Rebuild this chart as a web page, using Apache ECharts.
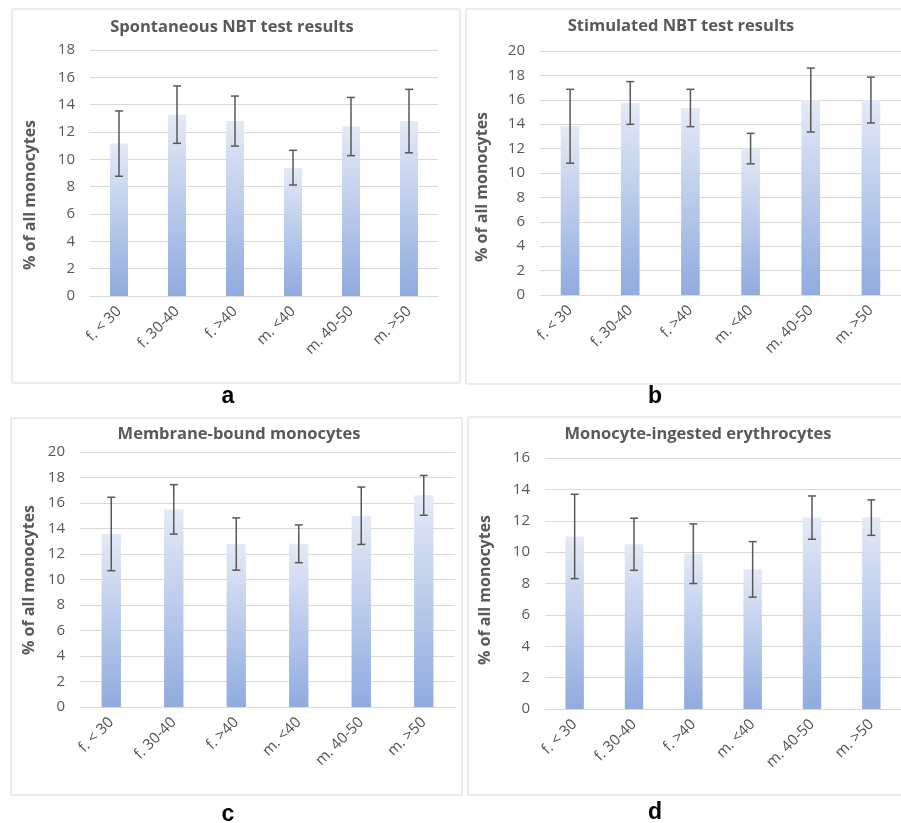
<!DOCTYPE html>
<html>
<head>
<meta charset="utf-8">
<script src="https://cdn.jsdelivr.net/npm/echarts@6/dist/echarts.min.js"></script>
<style>
html,body{margin:0;padding:0;background:#fff;}
#main{width:901px;height:823px;}
</style>
</head>
<body>
<div id="main"></div>
<script>
// ---- data ----
const categories = ['f. < 30', 'f. 30-40', 'f. >40', 'm. <40', 'm. 40-50', 'm. >50'];

const spontaneousMean = [11.15, 13.27, 12.8, 9.39, 12.4, 12.8];
const spontaneousErr  = [2.39, 2.1, 1.83, 1.27, 2.13, 2.32];

const stimulatedMean = [13.83, 15.74, 15.33, 12.0, 15.98, 15.98];
const stimulatedErr  = [3.03, 1.75, 1.53, 1.25, 2.62, 1.88];

const membraneMean = [13.57, 15.5, 12.78, 12.8, 15.0, 16.6];
const membraneErr  = [2.88, 1.94, 2.05, 1.48, 2.25, 1.56];

const ingestedMean = [11.0, 10.5, 9.9, 8.9, 12.2, 12.2];
const ingestedErr  = [2.69, 1.66, 1.9, 1.77, 1.38, 1.13];

const titles = ['Spontaneous NBT test results', 'Stimulated NBT test results',
                'Membrane-bound monocytes', 'Monocyte-ingested erythrocytes'];
const panelLetters = ['a', 'b', 'c', 'd'];
const yMax = [18, 20, 20, 16];
const yAxisName = '% of all monocytes';

// ---- layout ----
const grids = [
  {left: 90,  top: 50,  width: 348, height: 246},
  {left: 540, top: 51,  width: 364, height: 244},
  {left: 80,  top: 452, width: 375, height: 255},
  {left: 545, top: 458, width: 374, height: 251}
];
const titlePos = [[232, 27], [681, 26], [239, 434], [698, 434]];
const axisNamePos = [[30, 195], [482, 187], [29, 580], [485, 590]];
const letterPos = [[228, 397], [655, 397], [228, 815], [655, 813]];
const borders = [
  {x: 12, y: 9, width: 448, height: 374},
  {x: 466, y: 9, width: 470, height: 375},
  {x: 11, y: 418, width: 451, height: 377},
  {x: 468, y: 417, width: 470, height: 378}
];

const means = [spontaneousMean, stimulatedMean, membraneMean, ingestedMean];
const errs = [spontaneousErr, stimulatedErr, membraneErr, ingestedErr];

const FONT = 'Open Sans';
const GREY = '#595959';

const barColor = new echarts.graphic.LinearGradient(0, 0, 0, 1, [
  {offset: 0, color: '#e4eaf6'},
  {offset: 1, color: '#90abdf'}
]);

function errRender(params, api) {
  const x = api.value(0);
  const lo = api.coord([x, api.value(1)]);
  const hi = api.coord([x, api.value(2)]);
  const hw = 4;
  const st = {stroke: GREY, lineWidth: 1.5};
  return {
    type: 'group',
    children: [
      {type: 'line', shape: {x1: lo[0], y1: lo[1], x2: hi[0], y2: hi[1]}, style: st},
      {type: 'line', shape: {x1: lo[0] - hw, y1: lo[1], x2: lo[0] + hw, y2: lo[1]}, style: st},
      {type: 'line', shape: {x1: hi[0] - hw, y1: hi[1], x2: hi[0] + hw, y2: hi[1]}, style: st}
    ]
  };
}

const option = {
  backgroundColor: '#ffffff',
  animation: false,
  grid: grids.map(g => Object.assign({containLabel: false}, g)),
  xAxis: grids.map((g, i) => ({
    type: 'category',
    gridIndex: i,
    data: categories,
    axisTick: {show: false},
    axisLine: {lineStyle: {color: '#d9d9d9', width: 1}},
    axisLabel: {rotate: 45, color: '#505050', fontFamily: FONT, fontSize: 15, margin: 13, interval: 0}
  })),
  yAxis: grids.map((g, i) => ({
    type: 'value',
    gridIndex: i,
    min: 0,
    max: yMax[i],
    interval: 2,
    axisLine: {show: false},
    axisTick: {show: false},
    splitLine: {lineStyle: {color: '#d9d9d9', width: 1}},
    axisLabel: {color: GREY, fontFamily: FONT, fontSize: 15, margin: 15}
  })),
  series: [],
  graphic: []
};

for (let i = 0; i < 4; i++) {
  option.series.push({
    type: 'bar',
    xAxisIndex: i,
    yAxisIndex: i,
    data: means[i],
    barWidth: '31%',
    itemStyle: {color: barColor}
  });
  option.series.push({
    type: 'custom',
    xAxisIndex: i,
    yAxisIndex: i,
    renderItem: errRender,
    encode: {x: 0, y: [1, 2]},
    data: means[i].map((m, j) => [j, +(m - errs[i][j]).toFixed(2), +(m + errs[i][j]).toFixed(2)]),
    z: 5
  });
  option.graphic.push({
    type: 'rect',
    shape: borders[i],
    style: {fill: 'none', stroke: '#d9d9d9', lineWidth: 1},
    z: -1
  });
  option.graphic.push({
    type: 'text',
    x: titlePos[i][0], y: titlePos[i][1],
    style: {text: titles[i], fill: GREY, font: 'bold 16.5px "Open Sans"', textAlign: 'center', textVerticalAlign: 'middle'}
  });
  option.graphic.push({
    type: 'text',
    x: axisNamePos[i][0], y: axisNamePos[i][1],
    rotation: Math.PI / 2,
    style: {text: yAxisName, fill: GREY, font: 'bold 16px "Open Sans"', textAlign: 'center', textVerticalAlign: 'middle'}
  });
  option.graphic.push({
    type: 'text',
    x: letterPos[i][0], y: letterPos[i][1],
    style: {text: panelLetters[i], fill: '#000000', font: 'bold 23px "Liberation Sans"', textAlign: 'center', textVerticalAlign: 'middle'}
  });
}

const chart = echarts.init(document.getElementById('main'), null, {renderer: 'canvas'});
chart.setOption(option);
</script>
</body>
</html>
